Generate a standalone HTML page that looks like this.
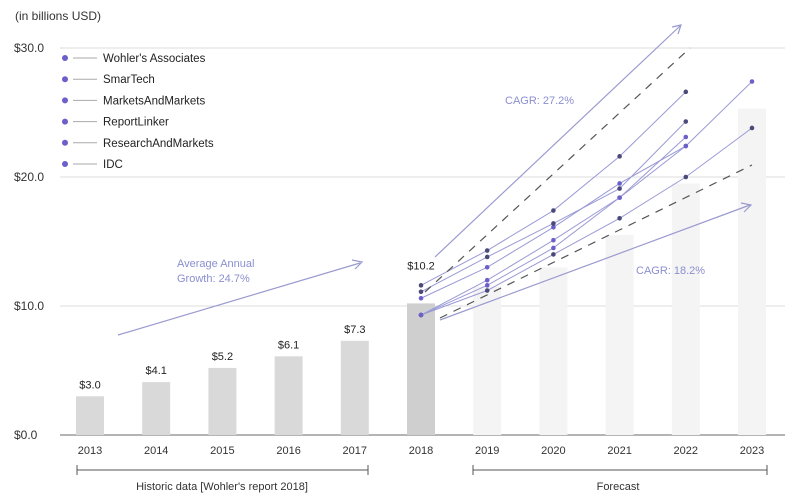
<!DOCTYPE html>
<html><head><meta charset="utf-8"><style>
body{margin:0;background:#fff;font-family:"Liberation Sans",sans-serif;}
svg text{font-family:"Liberation Sans",sans-serif;}
</style></head><body>
<svg id="chart" width="800" height="498" viewBox="0 0 800 498" xmlns="http://www.w3.org/2000/svg">
<text x="15" y="20" font-size="12" fill="#333">(in billions USD)</text>
<g id="grid"></g><g id="bars"></g><g id="series"></g><g id="legend"></g>
<g stroke="#9a9ad0" fill="none" stroke-width="1.2">
<line x1="118" y1="335" x2="360" y2="263"/><polyline points="352,260 362,262 355,269"/>
<line x1="435" y1="257" x2="680" y2="26"/><polyline points="672,27 681,25 678,34"/>
<line x1="440" y1="320" x2="750" y2="205"/><polyline points="741,203 751,205 744,212"/>
<line x1="425" y1="292" x2="690" y2="48" stroke="#555" stroke-dasharray="8,7"/>
<line x1="440" y1="318" x2="752" y2="165" stroke="#555" stroke-dasharray="8,7"/>
</g>
<text x="505" y="104" font-size="11" fill="#8b8fd0">CAGR: 27.2%</text>
<text x="636" y="274" font-size="11" fill="#8b8fd0">CAGR: 18.2%</text>
<text x="177" y="267" font-size="11" fill="#8b8fd0">Average Annual</text>
<text x="177" y="282" font-size="11" fill="#8b8fd0">Growth: 24.7%</text>
<g stroke="#555"><line x1="77" y1="470" x2="368" y2="470"/><line x1="77" y1="465" x2="77" y2="475"/><line x1="368" y1="465" x2="368" y2="475"/></g>
<text x="222" y="490" font-size="11" fill="#333" text-anchor="middle">Historic data [Wohler's report 2018]</text>
<g stroke="#555"><line x1="473" y1="470" x2="767" y2="470"/><line x1="473" y1="465" x2="473" y2="475"/><line x1="767" y1="465" x2="767" y2="475"/></g>
<text x="618" y="490" font-size="11" fill="#333" text-anchor="middle">Forecast</text>
</svg>
<script>
const years=["2013","2014","2015","2016","2017","2018","2019","2020","2021","2022","2023"];
const barValues=[3.0,4.1,5.2,6.1,7.3,10.2,11.5,13.0,15.5,19.5,25.3];
const barLabels=["$3.0","$4.1","$5.2","$6.1","$7.3","$10.2","","","","",""];
const yTicks=[0,10,20,30];
const yTickLabels=["$0.0","$10.0","$20.0","$30.0"];
const seriesNames=["Wohler's Associates","SmarTech","MarketsAndMarkets","ReportLinker","ResearchAndMarkets","IDC"];
const s1=[11.6,14.3,17.4,21.6,26.6];
const s2=[10.6,13.0,16.1,19.5,22.4,27.4];
const s3=[11.1,13.8,16.4,19.1,24.3];
const s4=[9.3,12.0,15.1,18.4,23.1];
const s5=[9.3,11.2,14.0,16.8,20.0,23.8];
const s6=[9.3,11.6,14.5,18.4,22.4];
const allSeries=[s1,s2,s3,s4,s5,s6];
const NS="http://www.w3.org/2000/svg";
const y=v=>435-v*12.9;
const x=i=>90+i*66.2;
function mk(t,a,p){const e=document.createElementNS(NS,t);for(const k in a)e.setAttribute(k,a[k]);p.appendChild(e);return e;}
const grid=document.getElementById('grid');
yTicks.forEach((t,i)=>{
 const l=mk('line',{x1:60,x2:785,y1:y(t),y2:y(t),stroke:i==0?'#888':'#ddd','stroke-width':i==0?1.2:1},grid);
 
 
 const tx=mk('text',{x:14,y:y(t)+4,'font-size':12,fill:'#333'},grid);tx.textContent=yTickLabels[i];
 
 
});
const bars=document.getElementById('bars');
years.forEach((yr,i)=>{
 const v=barValues[i];
 const r=mk('rect',{x:x(i)-14,y:y(v),width:28,height:v*12.9,fill:i<5?'#d9d9d9':(i==5?'#cfcfcf':'#f4f4f4')},bars);
 
 
 if(barLabels[i]){const ly=i==5?y(v)-34:y(v)-8;const t=mk('text',{x:x(i),y:ly,'font-size':11,fill:'#222','text-anchor':'middle'},bars);t.textContent=barLabels[i];
 
 }
 const t=mk('text',{x:x(i),y:454,'font-size':11,fill:'#333','text-anchor':'middle'},bars);t.textContent=yr;
 
 
});
const sg=document.getElementById('series');
allSeries.forEach((s,k)=>{
 const pts=s.map((v,j)=>x(5+j)+','+y(v)).join(' ');
 const pl=mk('polyline',{points:pts,fill:'none',stroke:'#9a9ad6','stroke-width':1},sg);
 
 
 s.forEach((v,j)=>{const c=mk('circle',{cx:x(5+j),cy:y(v),r:2.3,fill:k%2?'#6b5fc9':'#4a4a7a'},sg);
 
 });
});
const lg=document.getElementById('legend');
seriesNames.forEach((n,i)=>{
 const yy=58+i*21.2;
 const m=mk('circle',{cx:65,cy:yy,r:3,fill:'#6b5fc9'},lg);
 
 
 mk('line',{x1:73,x2:97,y1:yy,y2:yy,stroke:'#aaa'},lg);
 const t=mk('text',{x:103,y:yy+4,'font-size':11.5,fill:'#222'},lg);t.textContent=n;
 
 
});
</script>
</body></html>
